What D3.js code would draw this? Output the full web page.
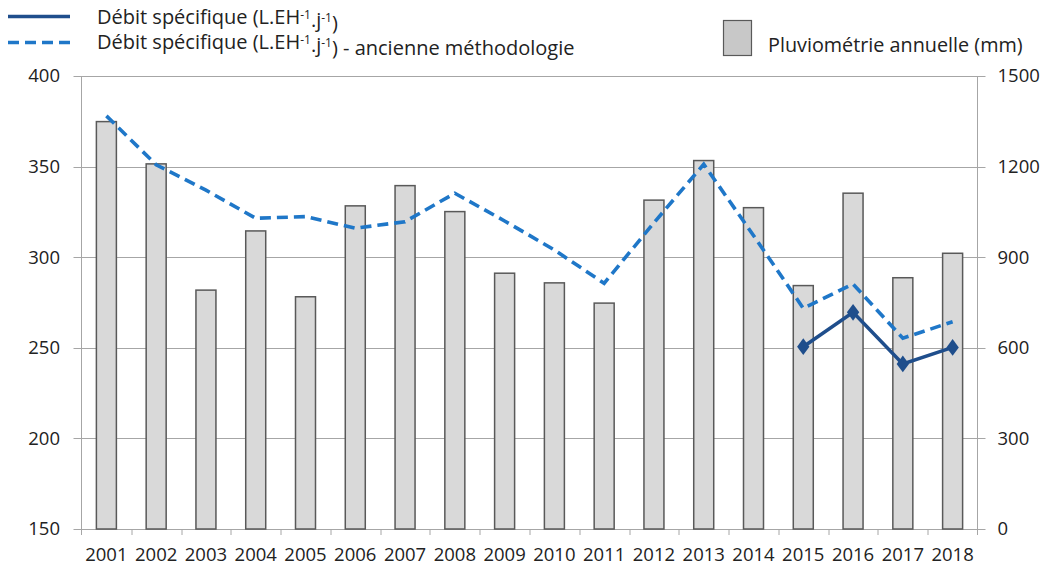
<!DOCTYPE html>
<html>
<head>
<meta charset="utf-8">
<script src="https://cdn.jsdelivr.net/npm/d3@7"></script>
<style>
  body { margin: 0; background: #fff; }
  svg text { font-family: "Open Sans", sans-serif; fill: #222; }
</style>
</head>
<body>
<div id="chart"></div>
<script>
// annees
const years = ["2001","2002","2003","2004","2005","2006","2007","2008","2009",
               "2010","2011","2012","2013","2014","2015","2016","2017","2018"];
// pluviometrie annuelle (mm), axe droit
const rain = [1349,1209,791,987,769,1070,1137,1051,847,815,748,1089,1220,1064,806,1112,832,913];
// debit specifique - ancienne methodologie
const debitOld = [378,351,337,321.5,322.4,316,319.6,335.3,320,304,285.6,319,351.3,312,271.8,285.2,255.3,264.4];
// debit specifique (2015 -> 2018)
const debitNewYears = ["2015","2016","2017","2018"];
const debitNew = [250.6,269.6,241.1,250.2];
const leftTicks = [150,200,250,300,350,400];
const rightTicks = [0,300,600,900,1200,1500];

const W = 1050, H = 569;
const m = { left: 81.5, right: 72.5, top: 76, bottom: 40 };
const width = W - m.left - m.right;
const height = H - m.top - m.bottom;

const svg = d3.select("#chart").append("svg")
  .attr("width", W).attr("height", H);
const g = svg.append("g").attr("transform", `translate(${m.left},${m.top})`);

const x = d3.scaleBand().domain(years).range([0, width]);
const yL = d3.scaleLinear().domain([150, 400]).range([height, 0]);
const yR = d3.scaleLinear().domain([0, 1500]).range([height, 0]);

const gridColor = "#a6a6a6";
const numSize = 18.5;

// gridlines
g.append("g").selectAll("line")
  .data(leftTicks)
  .join("line")
  .attr("x1", -8).attr("x2", width + 8)
  .attr("y1", d => Math.round(yL(d)) + 0.5).attr("y2", d => Math.round(yL(d)) + 0.5)
  .attr("stroke", gridColor).attr("stroke-width", 1);

// axes lines
g.append("line").attr("x1", 0).attr("x2", 0).attr("y1", 0).attr("y2", height + 6)
  .attr("stroke", gridColor);
g.append("line").attr("x1", width).attr("x2", width).attr("y1", 0).attr("y2", height + 6)
  .attr("stroke", gridColor);

// x ticks at category boundaries
g.append("g").selectAll("line")
  .data(years.slice(1))
  .join("line")
  .attr("x1", d => Math.round(x(d)) + 0.5).attr("x2", d => Math.round(x(d)) + 0.5)
  .attr("y1", height).attr("y2", height + 6)
  .attr("stroke", gridColor);

// left labels
g.append("g").selectAll("text")
  .data(leftTicks)
  .join("text")
  .attr("x", -21.5).attr("y", d => yL(d))
  .attr("dy", "0.35em").attr("text-anchor", "end")
  .attr("font-size", numSize).text(d => d);

// right labels
g.append("g").selectAll("text")
  .data(rightTicks)
  .join("text")
  .attr("x", width + 20).attr("y", d => yR(d))
  .attr("dy", "0.35em").attr("text-anchor", "start")
  .attr("font-size", numSize).text(d => d);

// x labels
g.append("g").selectAll("text")
  .data(years)
  .join("text")
  .attr("x", d => x(d) + x.bandwidth() / 2).attr("y", height + 26)
  .attr("dy", "0.35em").attr("text-anchor", "middle")
  .attr("font-size", numSize).text(d => d);

// bars
const barW = 20;
g.append("g").selectAll("rect")
  .data(years)
  .join("rect")
  .attr("x", d => x(d) + x.bandwidth() / 2 - barW / 2)
  .attr("y", (d, i) => yR(rain[i]))
  .attr("width", barW)
  .attr("height", (d, i) => height - yR(rain[i]))
  .attr("fill", "#d9d9d9").attr("stroke", "#595959").attr("stroke-width", 1.5);

// dashed line (ancienne methodologie)
const lineOld = d3.line()
  .x((d, i) => x(years[i]) + x.bandwidth() / 2)
  .y(d => yL(d));
g.append("path")
  .attr("d", lineOld(debitOld))
  .attr("fill", "none").attr("stroke", "#1f77c8")
  .attr("stroke-width", 3.6).attr("stroke-dasharray", "11,6");

// solid line
const lineNew = d3.line()
  .x((d, i) => x(debitNewYears[i]) + x.bandwidth() / 2)
  .y(d => yL(d));
g.append("path")
  .attr("d", lineNew(debitNew))
  .attr("fill", "none").attr("stroke", "#1f4e8c").attr("stroke-width", 3.5);
g.append("g").selectAll("path")
  .data(debitNew)
  .join("path")
  .attr("d", d3.symbol().type(d3.symbolDiamond).size(100))
  .attr("transform", (d, i) => `translate(${x(debitNewYears[i]) + x.bandwidth() / 2},${yL(d)}) scale(1.15,0.9)`)
  .attr("fill", "#1f4e8c");

// legend
const leg = svg.append("g");
leg.append("line").attr("x1", 8).attr("x2", 70).attr("y1", 16.5).attr("y2", 16.5)
  .attr("stroke", "#1f4e8c").attr("stroke-width", 3.5);
leg.append("line").attr("x1", 8).attr("x2", 70).attr("y1", 42.5).attr("y2", 42.5)
  .attr("stroke", "#1f77c8").attr("stroke-width", 3.5).attr("stroke-dasharray", "11,6");

function debitLabel(t, y, suffix) {
  t.attr("x", 97).attr("y", y).attr("dy", "0.35em").attr("font-size", 20);
  t.append("tspan").text("Débit spécifique (L.EH");
  t.append("tspan").attr("dy", "-0.4em").attr("font-size", 12).text("-1");
  t.append("tspan").attr("dy", "0.4em").text(".j");
  t.append("tspan").attr("dy", "-0.4em").attr("font-size", 12).text("-1");
  t.append("tspan").attr("dy", "0.4em").text(")" + suffix);
}
debitLabel(leg.append("text"), 16.5, "");
debitLabel(leg.append("text"), 42, " - ancienne méthodologie");

leg.append("rect").attr("x", 723.5).attr("y", 20.5).attr("width", 28).attr("height", 35)
  .attr("fill", "#c8c8c8").attr("stroke", "#595959").attr("stroke-width", 1.2);
leg.append("text").attr("x", 768).attr("y", 45).attr("dy", "0.35em")
  .attr("font-size", 19.8).text("Pluviométrie annuelle (mm)");
</script>
</body>
</html>
